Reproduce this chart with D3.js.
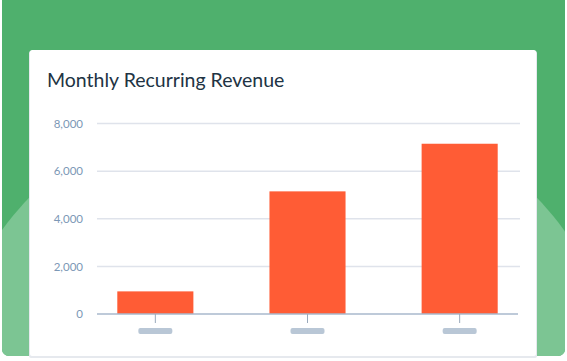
<!DOCTYPE html>
<html>
<head>
<meta charset="utf-8">
<script src="https://cdn.jsdelivr.net/npm/d3@7"></script>
<style>
  body { margin: 0; background: #fff; }
  svg { display: block; }
</style>
</head>
<body>
<div id="vis"></div>
<script>
// chart data
var months = ['A', 'B', 'C'];
var revenue = [950, 5150, 7150];
var yTicks = [0, 2000, 4000, 6000, 8000];
var chartTitle = 'Monthly Recurring Revenue';

var width = 567, height = 361;

var svg = d3.select('#vis').append('svg')
  .attr('width', width)
  .attr('height', height);

// green backdrop
var defs = svg.append('defs');
defs.append('clipPath').attr('id', 'bgclip')
  .append('rect')
  .attr('x', 2).attr('y', -8)
  .attr('width', 563).attr('height', 364)
  .attr('rx', 7);

var bg = svg.append('g').attr('clip-path', 'url(#bgclip)');
bg.append('rect')
  .attr('x', 0).attr('y', -10)
  .attr('width', width).attr('height', height + 10)
  .attr('fill', '#4fb06d');
bg.append('circle')
  .attr('cx', 283).attr('cy', 437).attr('r', 349)
  .attr('fill', '#7cc593');

// card (with faint shadow)
svg.append('rect')
  .attr('x', 29).attr('y', 51)
  .attr('width', 508).attr('height', 307)
  .attr('rx', 2)
  .attr('fill', '#e6e9ee');
svg.append('rect')
  .attr('x', 30).attr('y', 50)
  .attr('width', 506).attr('height', 306)
  .attr('rx', 2)
  .attr('fill', '#fff');

svg.append('text')
  .attr('x', 47).attr('y', 87)
  .attr('fill', '#213343')
  .style('font-family', 'Lato, sans-serif')
  .style('font-size', '19.5px')
  .text(chartTitle);

// scales
var x = d3.scaleBand()
  .domain(months)
  .range([96, 519])
  .paddingInner(0.5)
  .paddingOuter(0.14);

var y = d3.scaleLinear()
  .domain([0, 8000])
  .range([314, 123.5]);

var g = svg.append('g');

// gridlines
g.append('g').selectAll('line')
  .data(yTicks.slice(1))
  .enter()
  .append('line')
  .attr('x1', 97).attr('x2', 520)
  .attr('y1', function(d) { return y(d); })
  .attr('y2', function(d) { return y(d); })
  .attr('stroke', '#dfe3eb')
  .attr('stroke-width', 1.5);

// y labels
var yAxis = d3.axisLeft(y)
  .tickValues(yTicks)
  .tickSize(0)
  .tickPadding(0)
  .tickFormat(d3.format(','));

g.append('g')
  .attr('transform', 'translate(83,0)')
  .call(yAxis)
  .call(function(s) { s.select('.domain').remove(); })
  .selectAll('text')
  .attr('fill', '#7c98b6')
  .style('font-family', 'Lato, sans-serif')
  .style('font-size', '11.5px');

// bars
g.append('g').selectAll('rect')
  .data(revenue)
  .enter()
  .append('rect')
  .attr('x', function(d, i) { return x(months[i]); })
  .attr('y', function(d) { return y(d); })
  .attr('width', x.bandwidth())
  .attr('height', function(d) { return y(0) - y(d); })
  .attr('fill', '#ff5c35');

// baseline
g.append('line')
  .attr('x1', 97).attr('x2', 518)
  .attr('y1', y(0)).attr('y2', y(0))
  .attr('stroke', '#a9b9cc')
  .attr('stroke-width', 1.5);

// x ticks and placeholder labels
var xt = g.append('g').selectAll('g')
  .data(months)
  .enter()
  .append('g')
  .attr('transform', function(d) { return 'translate(' + (x(d) + x.bandwidth() / 2) + ',0)'; });

xt.append('line')
  .attr('y1', y(0)).attr('y2', y(0) + 9)
  .attr('stroke', '#99a9bb')
  .attr('stroke-width', 1);

xt.append('rect')
  .attr('x', -17).attr('y', 328)
  .attr('width', 34).attr('height', 6)
  .attr('rx', 2)
  .attr('fill', '#b9c7d6');
</script>
</body>
</html>
